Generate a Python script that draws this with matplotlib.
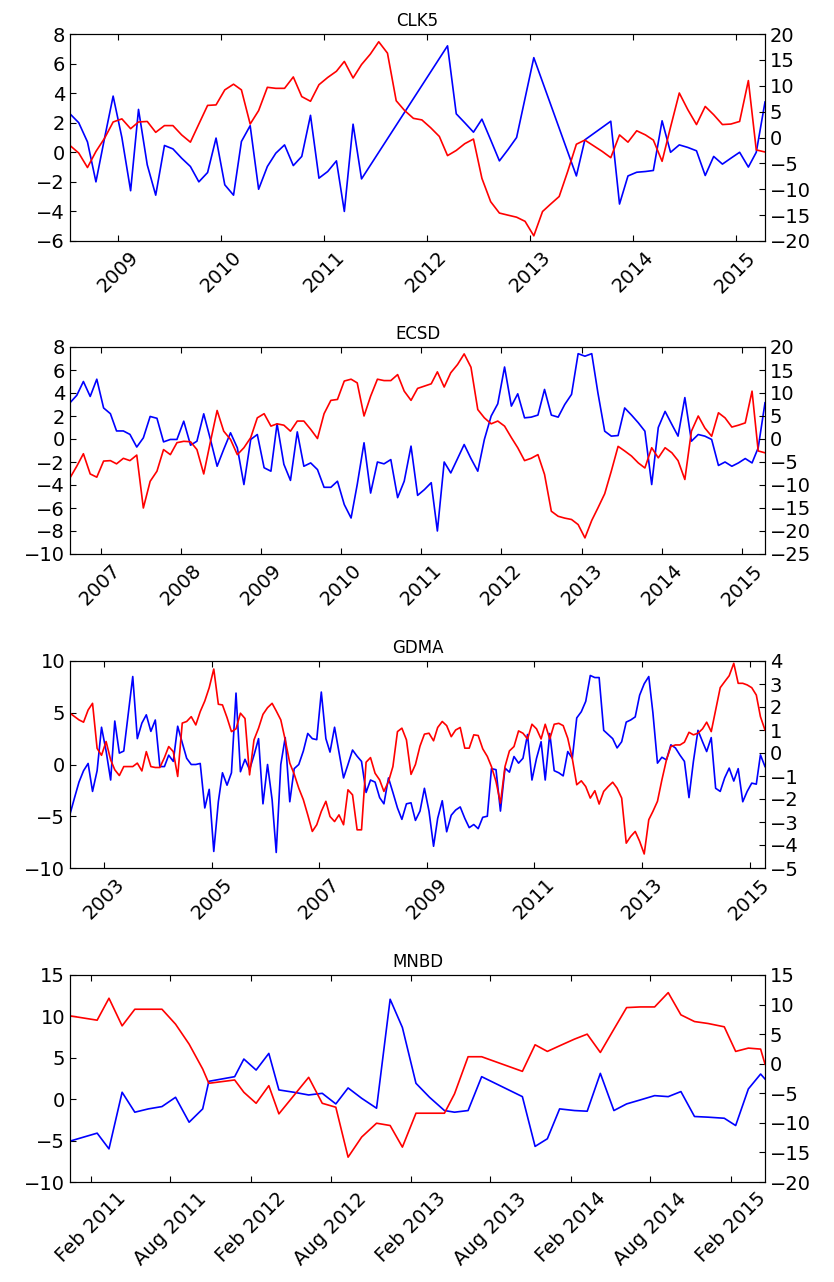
import matplotlib
matplotlib.use("Agg")
import matplotlib.pyplot as plt
import matplotlib.dates as mdates
import numpy as np
import pandas as pd

# CLK5: monthly values from Jul 2008, None = no observation that month
clk5_start = "2008-07"
clk5_blue = [2.6, 2.0, 0.7, -2.0, 1.0, 3.8,
             1.0, -2.6, 2.9, -0.85, -2.9, 0.46, 0.23, -0.4, -0.96, -2.0, -1.37, 0.96,
             -2.2, -2.9, 0.73, 1.8, -2.5, -0.96, -0.06, 0.5, -0.9, -0.28, 2.5, -1.75,
             -1.3, -0.58, -4.0, 1.9, -1.8, None, None, None, None, None, None, None,
             None, None, 7.2, 2.6, 2.0, 1.36, 2.24, 0.84, -0.58, 0.17, 1.0, None,
             6.4, None, None, None, None, -1.6, 0.84, None, None, 2.1, -3.5, -1.6,
             -1.35, -1.3, -1.23, 2.13, 0.0, 0.5, 0.33, 0.1, -1.57, -0.28, -0.8, -0.4,
             0.0, -1.0, 0.0, 3.4]
clk5_red = [-1.55, -3.0, -5.8, -2.7, -0.1, 3.0,
            3.6, 1.7, 3.0, 3.1, 1.0, 2.3, 2.3, 0.5, -0.9, 2.6, 6.2, 6.3,
            9.2, 10.3, 9.2, 2.6, 5.2, 9.7, 9.5, 9.5, 11.7, 7.9, 7.0, 10.2,
            11.6, 12.8, 14.7, 11.5, 14.1, 16.1, 18.5, 16.3, 7.1, 5.2, 3.7, 3.4,
            1.9, 0.2, -3.5, -2.5, -1.2, -0.3, -7.9, -12.4, -14.6, -15.0, -15.4, -16.2,
            -19.0, -14.3, -12.9, -11.4, -6.6, -1.3, -0.5, -1.6, -2.7, -3.9, 0.5, -0.9,
            1.3, 0.5, -0.5, -4.6, 2.0, 8.6, 5.4, 2.5, 6.0, 4.4, 2.5, 2.6,
            3.1, 11.0, -2.4, -2.8]

# ECSD: monthly from Aug 2006
ecsd_start = "2006-08"
ecsd_blue = [3.15, 3.8, 5.0, 3.7, 5.2,
             2.7, 2.2, 0.7, 0.7, 0.4, -0.7, 0.1, 1.96, 1.8, -0.25, -0.04, -0.04,
             1.55, -0.54, -0.19, 2.19, 0.0, -2.37, -0.9, 0.54, -0.77, -3.96, -0.04, 0.39,
             -2.5, -2.8, 1.32, -2.2, -3.6, 0.62, -2.37, -2.08, -2.66, -4.2, -4.2, -3.67,
             -5.7, -6.87, -3.96, -0.33, -4.7, -2.0, -2.16, -1.79, -5.1, -3.67, -0.62, -4.9,
             -4.4, -3.8, -8.0, -2.0, -2.95, -1.7, -0.48, -1.7, -2.8, -0.04, 2.0, 3.06,
             6.26, 2.86, 3.93, 1.84, 1.9, 2.08, 4.31, 2.08, 1.9, 3.0, 3.88, 7.42,
             7.2, 7.42, 4.02, 0.68, 0.25, 0.3, 2.7, 2.08, 1.41, 0.68, -3.96, 1.0,
             2.4, 1.26, 0.25, 3.6, -0.19, 0.39, 0.25, -0.04, -2.3, -2.0, -2.37, -2.08,
             -1.7, -2.08, -0.77, 3.15]
ecsd_red = [-8.45, -5.9, -3.2, -7.6, -8.3,
            -4.8, -4.7, -5.4, -4.2, -4.7, -3.5, -15.0, -9.2, -7.0, -2.3, -3.4, -0.8,
            -0.5, -0.6, -2.3, -7.6, -0.7, 6.2, 1.7, -0.1, -3.4, -1.9, 0.3, 4.6,
            5.5, 2.8, 3.3, 3.0, 1.7, 3.9, 3.9, 2.1, 0.1, 5.5, 8.4, 8.6,
            12.6, 13.0, 12.2, 5.0, 9.3, 13.0, 12.7, 12.7, 14.0, 10.4, 8.4, 11.0,
            11.5, 12.0, 14.6, 11.3, 14.4, 16.2, 18.5, 15.6, 6.4, 4.6, 3.3, 3.9,
            2.8, 0.3, -1.9, -4.7, -4.2, -3.4, -7.7, -15.7, -16.8, -17.2, -17.5, -18.6,
            -21.5, -17.7, -15.0, -11.9, -7.0, -1.6, -2.6, -3.7, -5.2, -6.3, -1.9, -4.1,
            -1.9, -3.0, -4.7, -8.8, 1.7, 5.0, 2.4, 0.6, 5.7, 4.6, 2.6, 3.0,
            3.5, 10.4, -2.6, -3.0]

# GDMA: monthly from May 2002
gdma_start = "2002-05"
gdma_blue = [-4.8, -3.2, -1.7, -0.6, 0.1, -2.6, -0.6, 3.6,
             1.3, -1.5, 4.2, 1.1, 1.3, 5.0, 8.5, 2.5, 4.0, 4.8, 3.2, 4.3,
             -0.2, -0.2, 0.9, 0.3, 3.7, 2.1, 0.6, 0.0, 0.0, 0.1, -4.2, -2.4,
             -8.4, -3.6, -0.8, -2.0, -0.8, 6.9, -0.7, 0.5, -0.5, 0.9, 2.5, -3.8,
             0.0, -3.4, -8.5, 0.0, 2.6, -3.6, -0.4, 0.0, 1.3, 3.0, 2.5, 2.4,
             7.0, 2.5, 1.2, 3.6, 1.2, -1.3, 0.0, 1.4, 0.8, 0.3, -2.7, -1.5,
             -1.7, -3.2, -3.8, -1.3, -2.7, -4.2, -5.3, -3.8, -3.7, -5.4, -4.5, -2.3,
             -4.5, -7.9, -5.2, -3.5, -6.5, -4.9, -4.4, -4.1, -5.2, -6.1, -5.8, -6.2,
             -5.1, -5.0, -0.4, -0.5, -4.5, -0.35, -0.74, 0.77, 0.13, 0.6, 2.9, -1.5,
             0.6, 2.2, -1.5, 3.0, -0.6, -0.8, -1.1, 1.25, 0.6, 4.5, 5.1, 6.1,
             8.6, 8.4, 8.4, 3.3, 2.9, 2.5, 1.6, 2.2, 4.1, 4.3, 4.6, 6.7,
             7.8, 8.5, 5.0, 0.13, 0.7, 0.45, 1.9, 1.6, 0.9, 0.3, -3.2, 0.3,
             3.3, 2.2, 1.25, 2.6, -2.3, -2.6, -1.3, -0.35, -1.6, -0.4, -3.6, -2.6,
             -1.8, -1.9, 0.93, -0.2]
gdma_red = [1.73, 1.58, 1.44, 1.34, 1.87, 2.16, 0.2, -0.1,
            0.5, -0.3, -0.73, -0.98, -0.59, -0.59, -0.59, -0.44, -0.78, 0.06, -0.59, -0.63,
            -0.63, -0.2, 0.28, 0.06, -1.02, 1.3, 1.37, 1.58, 1.22, 1.8, 2.26, 2.84,
            3.65, 2.12, 2.09, 1.54, 0.93, 1.05, 1.73, 1.5, -0.95, 0.57, 1.08, 1.68,
            1.97, 2.16, 1.83, 1.44, 0.57, -0.44, -0.92, -1.53, -2.03, -2.69, -3.41, -3.12,
            -2.54, -2.1, -2.76, -2.98, -2.69, -3.12, -1.6, -1.82, -3.34, -3.34, -0.4, -0.2,
            -0.88, -1.17, -1.67, -1.24, -0.59, 0.93, 1.08, 0.57, -0.93, -0.5, 0.3, 0.82,
            0.86, 0.53, 1.11, 1.37, 1.19, 0.71, 1.0, 1.11, 0.21, 0.21, 0.79, 0.76,
            0.18, -0.15, -0.59, -1.24, -2.18, -0.59, 0.09, 0.28, 0.96, 0.86, 0.61, 1.25,
            1.05, 0.61, 1.25, 0.61, 1.25, 1.29, 1.19, 0.64, -0.25, -1.38, -1.21, -1.46,
            -1.96, -1.64, -2.22, -1.67, -1.46, -1.27, -1.53, -1.96, -3.92, -3.63, -3.41, -3.84,
            -4.39, -2.9, -2.54, -2.1, -1.17, -0.3, 0.28, 0.35, 0.35, 0.47, 0.9, 0.79,
            0.86, 1.05, 1.34, 0.93, 1.87, 2.84, 3.1, 3.36, 3.9, 3.03, 3.03, 2.96,
            2.84, 2.52, 1.58, 1.0]

# MNBD: irregular observation dates
mnbd_dates = ["2010-12-15", "2011-02-15", "2011-03-14", "2011-04-13", "2011-05-12",
              "2011-06-12", "2011-07-13", "2011-08-13", "2011-09-13", "2011-10-14",
              "2011-10-28", "2011-12-26", "2012-01-16", "2012-02-13", "2012-03-13",
              "2012-04-05", "2012-05-09", "2012-06-12", "2012-07-13", "2012-08-13",
              "2012-09-10", "2012-10-11", "2012-11-14", "2012-12-15", "2013-01-12",
              "2013-02-12", "2013-03-15", "2013-04-18", "2013-05-11", "2013-06-11",
              "2013-07-12", "2013-10-13", "2013-11-11", "2013-12-09", "2014-01-06",
              "2014-02-09", "2014-03-10", "2014-04-09", "2014-05-10", "2014-06-08",
              "2014-07-09", "2014-08-11", "2014-09-11", "2014-10-10", "2014-11-10",
              "2014-12-11", "2015-01-17", "2015-02-12", "2015-03-13", "2015-04-10",
              "2015-04-20"]
mnbd_blue = [-5.06, -4.1, -6.0, 0.84, -1.57, -1.17, -0.89, 0.23, -2.78, -1.17,
             2.16, 2.72, 4.85, 3.52, 5.53, 1.12, 0.84, 0.51, 0.71, -0.57,
             1.36, 0.11, -1.09, 12.07, 8.66, 1.92, 0.23, -1.37, -1.57, -1.37,
             2.72, 0.31, -5.7, -4.78, -1.17, -1.37, -1.45, 3.12, -1.37, -0.57,
             -0.09, 0.43, 0.31, 0.92, -2.09, -2.17, -2.3, -3.18, 1.24, 3.04, 2.44]
mnbd_red = [8.09, 7.36, 11.07, 6.4, 9.21, 9.21, 9.21, 6.69, 3.31, -0.9,
            -3.31, -2.75, -4.83, -6.69, -3.71, -8.48, -5.39, -2.3, -6.69, -7.36,
            -15.8, -12.4, -10.06, -10.45, -14.1, -8.37, -8.37, -8.37, -5.1, 1.18,
            1.18, -1.29, 3.2, 2.08, 3.03, 4.16, 5.0, 1.9, 5.84, 9.49,
            9.6, 9.6, 12.02, 8.26, 7.13, 6.8, 6.24, 2.08, 2.64, 2.47, -0.06]


def monthly(start, values):
    idx = pd.date_range(start=start + "-01", periods=len(values), freq="MS") + pd.Timedelta(days=14)
    s = pd.Series([np.nan if v is None else v for v in values], index=idx).dropna()
    return s.index.values, s.values


def draw(fig, rect, title, blue, red, ylim_l, step_l, ylim_r, step_r, ticks, fmt):
    ax = fig.add_axes(rect)
    ax2 = ax.twinx()
    ax.plot(blue[0], blue[1], color="b", lw=1.2)
    ax2.plot(red[0], red[1], color="r", lw=1.2)

    x0 = min(blue[0].min(), red[0].min())
    x1 = max(blue[0].max(), red[0].max())
    ax.set_xlim(x0, x1)

    ax.set_ylim(*ylim_l)
    ax.set_yticks(np.arange(ylim_l[0], ylim_l[1] + 0.1, step_l))
    ax2.set_ylim(*ylim_r)
    ax2.set_yticks(np.arange(ylim_r[0], ylim_r[1] + 0.1, step_r))

    ax.set_xticks(ticks)
    ax.xaxis.set_major_formatter(mdates.DateFormatter(fmt))
    ax.tick_params(axis="x", labelrotation=45, direction="in", length=4,
                   top=True, labelsize=14, pad=5)
    ax.tick_params(axis="y", direction="in", length=4, labelsize=14)
    ax2.tick_params(axis="y", direction="in", length=4, labelsize=14)
    for lab in ax.get_xticklabels():
        lab.set_ha("center")
    ax.set_title(title, fontsize=12, pad=6)


fig = plt.figure(figsize=(8.34, 12.82), dpi=100)
W, H = 834.0, 1282.0
left, right = 70, 765
tops = [34, 347, 661, 975]
ph = 207


def rect(i):
    return [left / W, 1 - (tops[i] + ph) / H, (right - left) / W, ph / H]


years = lambda ys: pd.to_datetime([f"{y}-01-01" for y in ys]).values

draw(fig, rect(0), "CLK5", monthly(clk5_start, clk5_blue), monthly(clk5_start, clk5_red),
     (-6, 8), 2, (-20, 20), 5, years(range(2009, 2016)), "%Y")
draw(fig, rect(1), "ECSD", monthly(ecsd_start, ecsd_blue), monthly(ecsd_start, ecsd_red),
     (-10, 8), 2, (-25, 20), 5, years(range(2007, 2016)), "%Y")
draw(fig, rect(2), "GDMA", monthly(gdma_start, gdma_blue), monthly(gdma_start, gdma_red),
     (-10, 10), 5, (-5, 4), 1, years(range(2003, 2016, 2)), "%Y")

mn_dates = pd.to_datetime(mnbd_dates).values
mn_ticks = pd.to_datetime([f"{y}-{m:02d}-01" for y in range(2011, 2016) for m in (2, 8)
                           if (y, m) != (2015, 8)]).values
draw(fig, rect(3), "MNBD", (mn_dates, np.array(mnbd_blue)), (mn_dates, np.array(mnbd_red)),
     (-10, 15), 5, (-20, 15), 5, mn_ticks, "%b %Y")

fig.savefig("out.png", dpi=100, facecolor="white")
